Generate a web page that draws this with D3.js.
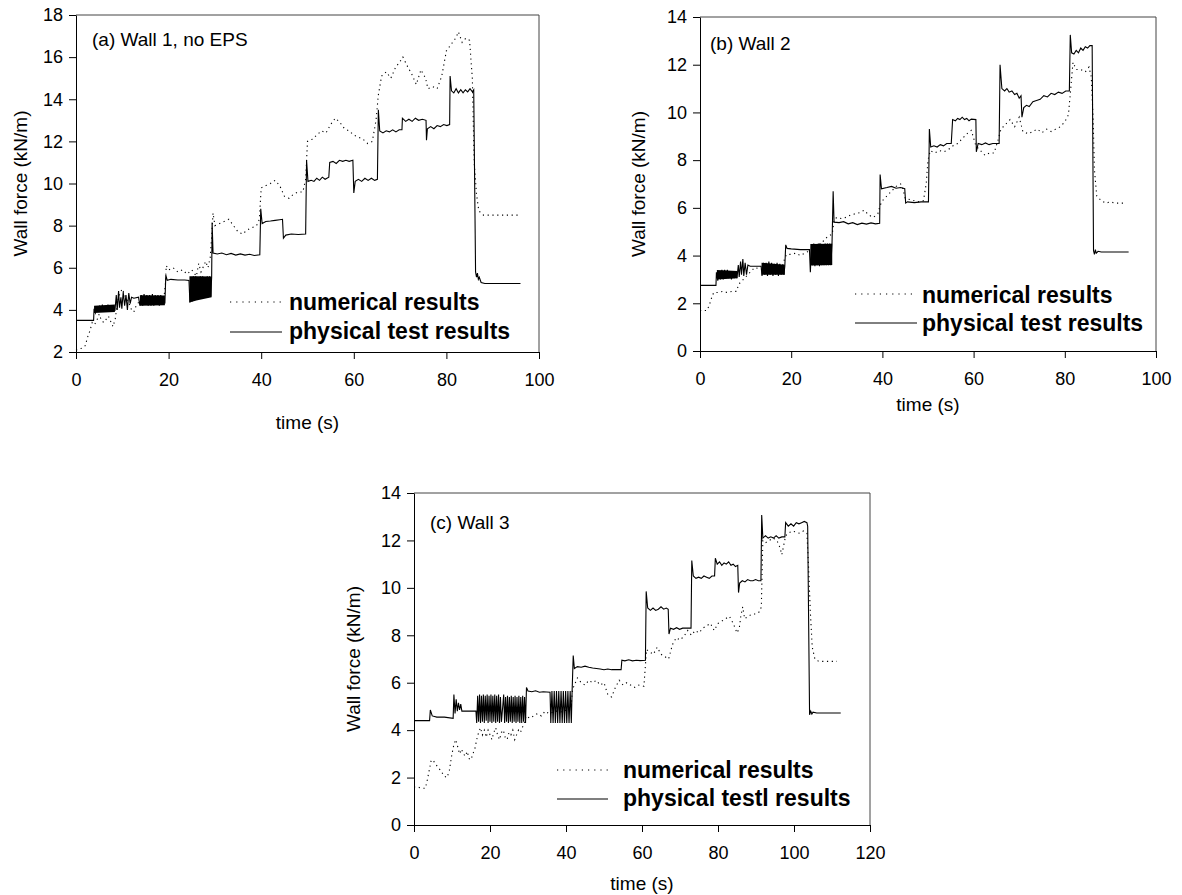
<!DOCTYPE html>
<html><head><meta charset="utf-8">
<script src="https://cdn.jsdelivr.net/npm/d3@7"></script>
<style>
body{margin:0;background:#fff}
svg{display:block}
text{font-family:"Liberation Sans",Arial,Helvetica,sans-serif;fill:#000}
</style>
</head><body>
<svg id="chart" width="1182" height="895"></svg>
<script>
// ---------- data (time s, wall force kN/m) ----------
const physA = [[0,3.5],[3.8,3.5],[3.9,4.05],
 [4.2,3.85],[4.5,4.15],[4.8,3.9],[5.1,4.2],[5.4,3.9],[5.7,4.25],[6.0,3.9],[6.3,4.2],[6.6,3.95],[6.9,4.25],[7.2,3.9],[7.5,4.2],[7.8,3.9],[8.1,4.2],[8.4,3.95],
 [8.7,4.7],[8.9,4.0],[9.2,4.9],[9.4,4.1],[9.7,4.6],[9.9,4.05],[10.2,4.85],[10.5,4.2],[10.8,4.7],[11.1,4.0],[11.4,4.8],[11.7,4.3],[12.0,4.6],[12.5,4.55],[13.5,4.6],
 [13.8,4.2],[14.1,4.7],[14.4,4.2],[14.7,4.75],[15.0,4.25],[15.3,4.7],[15.6,4.2],[15.9,4.7],[16.2,4.2],[16.5,4.75],[16.8,4.2],[17.1,4.7],[17.4,4.25],[17.7,4.7],[18.0,4.2],[18.3,4.7],[18.6,4.25],[18.9,4.65],[19.2,4.3],
 [19.4,5.65],[19.7,5.4],[20.5,5.45],[22,5.42],[23.5,5.42],[24.4,5.4],
 [24.6,4.35],[24.85,5.55],[25.1,4.4],[25.35,5.6],[25.6,4.45],[25.85,5.6],[26.1,4.5],[26.35,5.55],[26.6,4.55],[26.85,5.6],[27.1,4.55],[27.35,5.6],[27.6,4.6],[27.85,5.55],[28.1,4.6],[28.35,5.6],[28.6,4.6],[28.85,5.6],[29.1,4.65],[29.3,5.55],
 [29.4,8.15],[29.6,6.7],[30.5,6.65],[31.5,6.7],[32.5,6.62],[33.5,6.68],[34.5,6.6],[35.5,6.66],[36.5,6.6],[37.5,6.64],[38.5,6.58],[39.7,6.62],
 [39.9,8.8],[40.2,8.1],[41,8.2],[42,8.22],[43,8.25],[44,8.28],[44.6,8.3],[44.8,7.4],[45.3,7.55],[46.5,7.6],[48,7.58],[49.6,7.6],
 [49.8,11.1],[50.1,10.1],[50.8,10.15],[51.4,10.1],[52,10.25],[52.6,10.15],[53.2,10.3],[53.8,10.2],[54.6,10.3],
 [54.8,11.0],[55.5,11.05],[56.2,10.95],[56.9,11.1],[57.6,11.05],[58.3,11.1],[59,11.05],[59.8,11.1],
 [60.0,9.55],[60.3,10.1],[61,10.2],[61.7,10.1],[62.4,10.25],[63.1,10.15],[63.8,10.25],[64.5,10.15],[65.1,10.2],
 [65.3,13.5],[65.6,12.5],[66.3,12.4],[67,12.5],[67.7,12.45],[68.4,12.55],[69.1,12.45],[69.8,12.55],[70.4,12.55],
 [70.5,13.1],[71.2,12.95],[71.9,13.05],[72.6,12.95],[73.3,13.1],[74,13.0],[74.8,13.05],[75.6,13.0],
 [75.7,12.05],[75.9,12.6],[76.6,12.7],[77.3,12.6],[78,12.75],[78.7,12.7],[79.4,12.8],[80.1,12.75],[80.7,12.8],
 [80.8,15.1],[81.1,14.4],[81.6,14.3],[82.1,14.5],[82.6,14.3],[83.1,14.45],[83.6,14.3],[84.1,14.45],[84.6,14.35],[85.1,14.5],[85.6,14.35],[85.9,14.45],
 [86.3,5.8],[86.5,5.55],[86.7,5.75],[86.9,5.45],[87.1,5.55],[87.5,5.3],[88.3,5.25],[96,5.25]];

const numA = [[0,2.1],[1,2.15],[2,2.3],[2.5,2.7],[3,3.0],[3.5,3.4],[4,3.3],[4.5,3.5],[5,3.8],[5.5,3.5],[6,3.4],[7,3.7],[8,3.2],[8.5,3.6],[9,4.4],[9.5,4.8],[10,5.0],[10.5,4.7],[11,4.5],[11.5,4.3],[12,4.0],[12.5,3.9],[13,4.2],[14,4.5],[15,4.6],[16,4.5],[17,4.6],[18,4.5],[19,4.6],[19.3,5.2],[19.5,6.1],[20,5.9],[21,6.0],[22,5.8],[23,5.9],[24,5.7],[25,5.9],[26,5.6],[26.5,6.2],[27,5.8],[28,6.3],[28.5,6.0],[29,6.5],[29.3,7.5],[29.6,8.6],[30,8.0],[31,8.1],[32,8.2],[33,8.3],[34,8.0],[35,7.7],[36,7.6],[37,7.8],[38,7.9],[39,8.0],[39.6,8.3],[40,9.8],[41,9.9],[42,10.0],[43,10.15],[44,9.9],[45,9.4],[46,9.3],[47,9.5],[48,9.6],[49,9.6],[49.6,10.2],[50,12.0],[51,12.1],[52,12.3],[53,12.5],[54,12.4],[55,12.8],[56,13.1],[57,12.9],[58,12.6],[59,12.5],[60,12.3],[61,12.2],[62,12.1],[63,11.9],[64,12.0],[64.8,13.0],[65.3,14.2],[66,15.1],[67,15.3],[68,15.0],[69,15.5],[70,15.8],[70.6,16.0],[71.5,15.6],[72.5,15.2],[73.5,14.7],[74.5,15.4],[75.5,15.0],[76,14.5],[77,14.6],[78,14.5],[79,15.1],[80,16.3],[81,16.6],[82,16.9],[82.6,17.2],[83.4,16.7],[84.2,16.9],[85,16.8],[85.6,15.0],[86,11.0],[86.5,9.5],[87,8.7],[88,8.5],[90,8.5],[92,8.5],[94,8.5],[96,8.5]];

const physB = [[0,2.75],[3.5,2.75],[3.6,3.3],
 [3.9,2.95],[4.2,3.35],[4.5,3.0],[4.8,3.4],[5.1,3.0],[5.4,3.4],[5.7,3.05],[6.0,3.4],[6.3,3.05],[6.6,3.35],[6.9,3.0],[7.2,3.35],[7.5,3.05],[7.8,3.3],[8.1,3.05],
 [8.4,3.6],[8.6,3.1],[8.9,3.75],[9.1,3.2],[9.4,3.85],[9.6,3.15],[9.9,3.7],[10.2,3.2],[10.5,3.6],[11,3.55],[12.5,3.55],[13.4,3.55],
 [13.6,3.15],[13.9,3.7],[14.2,3.2],[14.5,3.7],[14.8,3.15],[15.1,3.75],[15.4,3.2],[15.7,3.7],[16.0,3.15],[16.3,3.65],[16.6,3.2],[16.9,3.7],[17.2,3.15],[17.5,3.65],[17.8,3.2],[18.1,3.6],[18.4,3.2],[18.6,3.55],
 [18.8,4.45],[19.1,4.3],[20,4.28],[22,4.25],[24,4.25],
 [24.2,3.3],[24.45,4.4],[24.7,3.6],[24.95,4.5],[25.2,3.55],[25.45,4.45],[25.7,3.6],[25.95,4.5],[26.2,3.55],[26.45,4.5],[26.7,3.6],[26.95,4.45],[27.2,3.6],[27.45,4.5],[27.7,3.6],[27.95,4.5],[28.2,3.6],[28.45,4.5],[28.7,3.6],[28.95,4.5],
 [29.2,6.7],[29.4,5.4],[30.5,5.38],[31.5,5.42],[32.5,5.33],[33.5,5.38],[34.5,5.3],[35.5,5.36],[36.5,5.32],[37.5,5.37],[38.5,5.33],[39.4,5.35],
 [39.5,7.4],[39.8,6.8],[41,6.85],[42,6.9],[43,6.82],[44,6.85],[44.9,6.8],[45.1,6.2],[45.5,6.25],[47,6.22],[48.5,6.25],[50.1,6.25],
 [50.3,9.3],[50.6,8.55],[51.3,8.6],[52,8.55],[52.7,8.65],[53.4,8.6],[54.1,8.7],[55.1,8.7],
 [55.4,9.7],[56,9.65],[56.5,9.75],[57,9.7],[57.5,9.8],[58,9.7],[58.5,9.75],[59,9.65],[59.5,9.72],[60.5,9.7],
 [60.6,8.35],[61,8.7],[61.8,8.65],[62.6,8.72],[63.4,8.65],[64.2,8.7],[65.6,8.7],
 [65.8,12.0],[66.2,11.0],[66.8,10.9],[67.3,11.0],[67.8,10.85],[68.4,10.9],[69,10.75],[69.5,10.8],[70,10.6],[70.4,10.7],
 [70.6,9.8],[71,10.2],[71.6,10.3],[72.2,10.25],[73,10.45],[73.8,10.5],[74.6,10.55],[75.4,10.7],[76.2,10.65],[77,10.8],[77.8,10.75],[78.6,10.85],[79.4,10.8],[80.2,10.9],[81.0,10.9],
 [81.2,13.25],[81.5,12.5],[82,12.45],[82.5,12.6],[83,12.5],[83.5,12.7],[84,12.6],[84.5,12.75],[85,12.7],[85.5,12.8],[86.0,12.8],
 [86.3,4.2],[86.5,4.05],[86.7,4.25],[86.9,4.1],[87.3,4.18],[88,4.15],[94,4.15]];

const numB = [[0,1.7],[1.5,1.7],[2,1.9],[2.5,2.2],[3,2.45],[4,2.45],[5,2.5],[6,2.45],[7,2.5],[8,2.5],[8.5,2.8],[9,2.9],[10,3.1],[11,3.3],[12,3.5],[13,3.45],[14,3.4],[15,3.35],[16,3.4],[17,3.45],[18,3.5],[18.6,3.9],[19,4.05],[20,4.05],[21,4.1],[22,4.0],[23,4.1],[24,4.2],[25,4.35],[26,4.45],[27,4.6],[28,4.8],[29,4.9],[29.4,5.5],[30,5.6],[31,5.55],[32,5.6],[33,5.7],[34,5.75],[35,5.8],[36,5.9],[37,5.7],[38,5.6],[39,5.75],[39.5,6.1],[40,6.3],[41,6.5],[42,6.7],[43,6.9],[44,7.0],[44.5,6.8],[45,6.4],[46,6.35],[47,6.3],[48,6.25],[49,6.3],[49.6,7.0],[50,8.0],[50.5,8.4],[51.5,8.3],[52.5,8.4],[53.5,8.35],[54.5,8.45],[55.5,8.6],[56.5,8.7],[57.5,8.9],[58.5,9.1],[59.5,9.25],[60.5,8.6],[61.5,8.4],[62.5,8.2],[63.5,8.3],[64.5,8.3],[65.3,8.8],[66,9.3],[67,9.5],[68,9.7],[69,9.4],[70,9.8],[70.8,9.2],[72,9.1],[73,9.2],[74,9.3],[75,9.15],[76,9.3],[77,9.2],[78,9.3],[79,9.4],[80,9.6],[80.8,9.9],[81.3,11.0],[81.8,12.1],[82.5,11.8],[83.5,11.8],[84.5,11.7],[85.3,11.9],[85.8,11.5],[86.2,9.8],[86.5,7.6],[87,6.5],[88,6.3],[89,6.2],[90,6.25],[91,6.2],[92,6.2],[93.2,6.2]];

const physC = [[0,4.4],[4.1,4.4],[4.3,4.85],[4.8,4.6],[6,4.55],[8,4.55],[10.3,4.5],
 [10.5,5.5],[10.8,4.7],[11.1,5.3],[11.4,4.8],[11.7,5.15],[12.0,4.85],[12.3,5.1],[12.6,4.8],[13.4,4.8],[16.3,4.8],
 [16.5,4.3],[16.75,5.45],[17.0,4.35],[17.25,5.5],[17.5,4.3],[17.75,5.45],[18.0,4.35],[18.25,5.5],[18.5,4.3],[18.75,5.45],[19.0,4.4],[19.25,5.5],[19.5,4.3],[19.75,5.45],[20.0,4.35],[20.25,5.5],[20.5,4.3],[20.75,5.45],[21.0,4.35],[21.25,5.5],[21.5,4.3],[21.75,5.45],[22.0,4.35],[22.25,5.5],[22.5,4.3],[22.75,5.4],[23.0,4.35],[23.3,4.9],
 [23.6,5.5],[23.85,4.3],[24.1,5.4],[24.35,4.35],[24.6,5.45],[24.85,4.3],[25.1,5.4],[25.35,4.35],[25.6,5.45],[25.85,4.3],[26.1,5.4],[26.35,4.35],[26.6,5.45],[26.85,4.3],[27.1,5.4],[27.35,4.35],[27.6,5.45],[27.85,4.3],[28.1,5.4],[28.35,4.3],[28.6,5.45],[28.85,4.35],[29.1,5.4],[29.35,4.3],
 [29.6,5.8],[30,5.65],[31,5.62],[32,5.66],[33,5.6],[34,5.62],[35.8,5.6],
 [36.0,4.3],[36.3,5.65],[36.6,4.3],[36.9,5.65],[37.2,4.3],[37.5,5.65],[37.8,4.3],[38.1,5.65],[38.4,4.3],[38.7,5.65],[39.0,4.3],[39.3,5.65],[39.6,4.3],[39.9,5.65],[40.2,4.3],[40.5,5.65],[40.8,4.3],[41.1,5.65],[41.4,4.3],[41.6,5.6],
 [41.9,7.15],[42.2,6.6],[43,6.68],[44,6.65],[45,6.7],[46,6.65],[47,6.62],[48,6.6],[49,6.58],[50,6.55],[51,6.58],[52,6.55],[53.5,6.55],[54.5,6.55],
 [54.7,6.95],[55.5,6.92],[56.5,6.97],[57.5,6.92],[58.5,6.95],[59.5,6.93],[60.9,6.95],
 [61.1,9.85],[61.5,9.15],[62.2,9.05],[62.9,9.15],[63.6,9.05],[64.3,9.1],[65,9.2],[65.7,9.1],[66.4,9.15],[66.9,9.1],
 [67.1,8.05],[67.5,8.3],[68.3,8.25],[69.1,8.32],[69.9,8.25],[70.7,8.3],[72.9,8.3],
 [73.1,11.15],[73.5,10.5],[74.2,10.4],[74.9,10.45],[75.6,10.4],[76.3,10.5],[77,10.45],[77.7,10.4],[78.4,10.5],[79.1,10.5],
 [79.3,11.25],[79.8,11.0],[80.4,11.1],[81,10.95],[81.6,11.05],[82.2,11.0],[82.8,11.1],[83.4,10.95],[84,11.0],[84.6,10.9],[85.2,10.95],
 [85.4,9.8],[85.7,10.2],[86.4,10.3],[87.1,10.25],[87.8,10.35],[88.5,10.3],[89.2,10.3],[89.9,10.35],[90.6,10.3],[91.3,10.3],
 [91.5,13.07],[91.8,12.1],[92.5,12.2],[93.2,12.1],[93.9,12.15],[94.6,12.1],[95.3,12.2],[96,12.1],[96.8,12.15],[97.6,12.15],
 [97.8,12.75],[98.5,12.6],[99.2,12.7],[99.9,12.6],[100.6,12.75],[101.3,12.7],[102,12.75],[102.7,12.8],[103.4,12.75],[103.6,12.6],
 [104.1,4.65],[104.4,4.8],[104.7,4.68],[105,4.76],[106,4.72],[112.3,4.72]];

const numC = [[0,1.6],[1,1.6],[2,1.55],[3,1.55],[3.5,1.9],[4,2.3],[4.5,2.7],[5,2.75],[5.5,2.6],[6,2.5],[7,2.3],[8,2.05],[8.7,2.0],[9.3,2.3],[10,3.0],[10.5,3.4],[11,3.6],[11.5,3.3],[12,3.0],[12.5,3.2],[13,3.0],[13.5,2.9],[14,3.1],[14.5,2.8],[15,2.75],[15.5,3.0],[16,3.2],[16.5,3.6],[17,3.9],[17.5,4.1],[18,3.8],[18.5,4.0],[19,3.7],[19.5,4.0],[20,3.8],[20.5,3.6],[21,3.9],[21.5,4.1],[22,3.8],[22.5,3.6],[23,3.9],[23.5,4.0],[24,3.7],[24.5,3.6],[25,3.9],[25.5,3.8],[26,4.0],[26.5,3.6],[27,3.8],[27.5,4.0],[28,3.9],[28.5,4.1],[29,4.3],[29.5,4.6],[30.5,4.5],[31.5,4.6],[32.5,4.7],[33.5,4.6],[34.5,4.8],[35.5,4.7],[36.5,4.75],[37.5,4.8],[38.5,4.75],[39.5,4.85],[40.5,4.8],[41.3,4.9],[41.7,5.7],[42.2,5.9],[43,6.2],[44,6.0],[45,5.9],[46,6.1],[47,6.0],[48,6.1],[49,5.9],[50,6.0],[51,5.5],[52,5.4],[53,5.8],[54,6.1],[55,5.9],[56,6.0],[57,5.9],[58,5.8],[59,5.9],[60.5,5.85],[61.2,7.4],[62,7.3],[63,7.2],[64,7.5],[65,7.2],[66,7.1],[67,7.0],[67.5,7.3],[68,7.6],[69,7.9],[70,7.8],[71,7.95],[72,8.2],[73,8.0],[74,8.2],[75,8.1],[76,8.3],[77,8.4],[78,8.5],[79,8.2],[80,8.5],[81,8.6],[82,8.7],[83,8.8],[84,8.5],[85,8.1],[85.6,8.3],[86,8.8],[86.5,9.2],[87,8.7],[88,8.8],[89,8.9],[90,8.9],[91,9.0],[91.4,9.2],[91.8,12.0],[92.5,11.9],[93.5,12.0],[94.5,12.1],[95.5,12.0],[96.3,11.7],[96.8,11.4],[97.3,11.8],[97.8,12.2],[98.5,12.3],[99.5,12.4],[100.5,12.35],[101.5,12.3],[102.5,12.4],[103.4,12.3],[103.8,11.0],[104.3,9.0],[104.8,7.5],[105.5,7.0],[106.5,6.9],[108,6.9],[110,6.9],[111.3,6.9]];

// dense-oscillation envelopes of the physical test records: [time, low, high]
const bandsA = [
  [[3.9,3.85,4.2],[8.4,3.9,4.25]],
  [[13.8,4.2,4.7],[19.2,4.22,4.68]],
  [[24.5,4.35,5.6],[26,4.45,5.6],[29.3,4.6,5.58]]
];
const bandsB = [
  [[3.7,3.0,3.4],[8.2,3.05,3.35]],
  [[13.5,3.2,3.7],[18.6,3.2,3.62]],
  [[24.2,3.58,4.48],[29.0,3.6,4.5]]
];
const bandsC = [];

// ---------- ticks & labels ----------
const xTicksAB = [0,20,40,60,80,100];
const xTicksC = [0,20,40,60,80,100,120];
const yTicksA = [2,4,6,8,10,12,14,16,18];
const yTicksBC = [0,2,4,6,8,10,12,14];
const titles = ["(a) Wall 1, no EPS","(b) Wall 2","(c) Wall 3"];
const legendAB = ["numerical results","physical test results"];
const legendC = ["numerical results","physical testl results"];
const xTitle = "time (s)";
const yTitle = "Wall force (kN/m)";

// ---------- layout ----------
const panels = [
  {phys:physA, num:numA, bands:bandsA, xDom:[0,100], yDom:[2,18], xt:xTicksAB, yt:yTicksA, title:titles[0], leg:legendAB,
   l:76, r:539, t:15, b:352, titleX:92, titleY:46, xLabY:429, yLabX:20,
   legX:289, legY:[310,339], sample:[230,282], sampleY:[302,332], sampleCol:"#000", sampleW:1},
  {phys:physB, num:numB, bands:bandsB, xDom:[0,100], yDom:[0,14], xt:xTicksAB, yt:yTicksBC, title:titles[1], leg:legendAB,
   l:700, r:1156, t:17, b:351, titleX:710, titleY:50, xLabY:411, yLabX:638,
   legX:922, legY:[303,331], sample:[855,917], sampleY:[294,323], sampleCol:"#000", sampleW:1},
  {phys:physC, num:numC, bands:bandsC, xDom:[0,120], yDom:[0,14], xt:xTicksC, yt:yTicksBC, title:titles[2], leg:legendC,
   l:414, r:870, t:493, b:825, titleX:430, titleY:529, xLabY:890, yLabX:353,
   legX:623, legY:[778,806], sample:[557,608], sampleY:[770,799], sampleCol:"#555", sampleW:1.6}
];

const svg = d3.select("#chart");

panels.forEach(p => {
  const x = d3.scaleLinear().domain(p.xDom).range([p.l, p.r]);
  const y = d3.scaleLinear().domain(p.yDom).range([p.b, p.t]);
  const g = svg.append("g");

  // frame (top & right)
  g.append("path")
    .attr("d", `M${p.l},${p.t}H${p.r}V${p.b}`)
    .attr("fill","none").attr("stroke","#444").attr("stroke-width",1);

  const xa = g.append("g").attr("transform",`translate(0,${p.b})`)
    .call(d3.axisBottom(x).tickValues(p.xt).tickSize(7).tickSizeOuter(0).tickPadding(14).tickFormat(d3.format("d")));
  const ya = g.append("g").attr("transform",`translate(${p.l},0)`)
    .call(d3.axisLeft(y).tickValues(p.yt).tickSize(7).tickSizeOuter(0).tickPadding(6).tickFormat(d3.format("d")));
  [xa, ya].forEach(a => {
    a.select(".domain").attr("stroke","#000");
    a.selectAll(".tick line").attr("stroke","#000");
    a.selectAll(".tick text").attr("font-size",18).attr("font-family",'"Liberation Sans",Arial,sans-serif').attr("fill","#000");
  });

  const line = d3.line().x(d => x(d[0])).y(d => y(d[1]));
  const area = d3.area().x(d => x(d[0])).y0(d => y(d[1])).y1(d => y(d[2]));

  g.append("path").datum(p.num).attr("d", line)
    .attr("fill","none").attr("stroke","#000").attr("stroke-width",1.1)
    .attr("stroke-dasharray","1.2,3.6");
  g.selectAll(".band").data(p.bands).enter().append("path").attr("class","band")
    .attr("d", area).attr("fill","#000");
  g.append("path").datum(p.phys).attr("d", line)
    .attr("fill","none").attr("stroke","#000").attr("stroke-width",1.1)
    .attr("stroke-linejoin","miter");

  // panel title
  g.append("text").attr("x",p.titleX).attr("y",p.titleY).attr("font-size",19).text(p.title);

  // axis titles
  g.append("text").attr("x",(p.l+p.r)/2).attr("y",p.xLabY).attr("text-anchor","middle")
    .attr("font-size",19).text(xTitle);
  g.append("text").attr("transform",`translate(${p.yLabX + 7},${(p.t+p.b)/2}) rotate(-90)`)
    .attr("text-anchor","middle").attr("font-size",19).text(yTitle);

  // legend
  g.append("line").attr("x1",p.sample[0]).attr("x2",p.sample[1]).attr("y1",p.sampleY[0]).attr("y2",p.sampleY[0])
    .attr("stroke","#000").attr("stroke-width",1.1).attr("stroke-dasharray","1.2,5");
  g.append("line").attr("x1",p.sample[0]).attr("x2",p.sample[1]).attr("y1",p.sampleY[1]).attr("y2",p.sampleY[1])
    .attr("stroke",p.sampleCol).attr("stroke-width",p.sampleW);
  p.leg.forEach((s,i) => {
    g.append("text").attr("x",p.legX).attr("y",p.legY[i]).attr("font-size",23).attr("font-weight","bold").text(s);
  });
});
</script>
</body></html>
